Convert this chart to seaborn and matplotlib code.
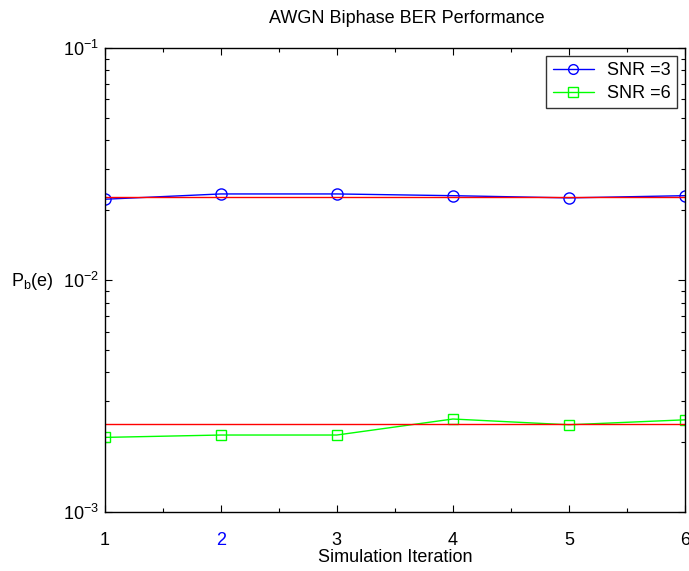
import numpy as np
import pandas as pd
import matplotlib
matplotlib.use("Agg")
import matplotlib.pyplot as plt
import seaborn as sns
from matplotlib.ticker import LogLocator, NullFormatter, MultipleLocator

# data
iteration = [1, 2, 3, 4, 5, 6]
ber_snr3 = [0.0223, 0.0235, 0.0235, 0.0231, 0.0226, 0.0231]
ber_snr6 = [0.00210, 0.00215, 0.00215, 0.00252, 0.00238, 0.00250]
theory_snr3 = 0.0229
theory_snr6 = 0.00239
x_tick_labels = ["1", "2", "3", "4", "5", "6"]

sns.set_style("ticks")
plt.rcParams['font.family'] = ['Liberation Sans', 'DejaVu Sans']
plt.rcParams['mathtext.fontset'] = 'custom'
plt.rcParams['mathtext.rm'] = 'Liberation Sans'
plt.rcParams['mathtext.it'] = 'Liberation Sans'
plt.rcParams['axes.unicode_minus'] = False
plt.rcParams['text.color'] = 'black'
plt.rcParams['axes.labelcolor'] = 'black'
plt.rcParams['xtick.color'] = 'black'
plt.rcParams['ytick.color'] = 'black'
plt.rcParams['axes.edgecolor'] = 'black'

df = pd.DataFrame({
    "iter": iteration * 2,
    "ber": ber_snr3 + ber_snr6,
    "snr": ["SNR =3"] * 6 + ["SNR =6"] * 6,
})

fig = plt.figure(figsize=(6.89, 5.71), dpi=100)
ax = fig.add_axes([0.152, 0.103, 0.842, 0.813])

sns.lineplot(data=df, x="iter", y="ber", hue="snr", style="snr",
             palette=["#0000ff", "#00ff00"], markers=["o", "s"], dashes=False,
             markersize=8, markerfacecolor="none", markeredgewidth=1,
             linewidth=1, ax=ax)
for m, c, ms in zip(ax.lines, ["#0000ff", "#00ff00"], [8, 7.5]):
    m.set_markeredgecolor(c)
    m.set_markersize(ms)

# theoretical curves
sns.lineplot(x=iteration, y=[theory_snr3] * 6, color="red", linewidth=1, ax=ax, legend=False)
sns.lineplot(x=iteration, y=[theory_snr6] * 6, color="red", linewidth=1, ax=ax, legend=False)

ax.set_yscale("log")
ax.set_ylim(1e-3, 1e-1)
ax.set_xlim(1, 6)
ax.set_yticks([1e-3, 1e-2, 1e-1])
ax.set_yticklabels([r"$10^{-3}$", r"$10^{-2}$", r"$10^{-1}$"])
ax.yaxis.set_minor_locator(LogLocator(base=10, subs=np.arange(2, 10)))
ax.yaxis.set_minor_formatter(NullFormatter())
ax.set_xticks(iteration)
ax.set_xticklabels(x_tick_labels)
ax.xaxis.set_minor_locator(MultipleLocator(0.5))
ax.get_xticklabels()[1].set_color("blue")

ax.tick_params(which="both", direction="in", top=True, right=True, labelsize=13, width=0.8)
ax.tick_params(which="major", length=5)
ax.tick_params(which="minor", length=3)
ax.tick_params(axis="x", pad=14)
ax.tick_params(axis="y", pad=4)
for s in ax.spines.values():
    s.set_linewidth(1)

ax.set_title("AWGN Biphase BER Performance", fontsize=13, pad=18, x=0.52)
ax.set_xlabel("Simulation Iteration", fontsize=13, labelpad=0)
ax.set_ylabel("P$_b$(e)", fontsize=13, rotation=0, va="center", ha="center")
ax.yaxis.set_label_coords(-0.125, 0.496)

leg = ax.legend(loc="upper right", fontsize=13, frameon=True, fancybox=False,
                edgecolor="black", borderaxespad=0.45, handlelength=2.3,
                borderpad=0.35, labelspacing=0.3, handletextpad=0.7)
leg.get_frame().set_linewidth(1)
for h, c in zip(leg.legend_handles, ["#0000ff", "#00ff00"]):
    h.set_markerfacecolor("none")
    h.set_markeredgecolor(c)
    h.set_markersize(7)

fig.savefig("out.png", dpi=100)
